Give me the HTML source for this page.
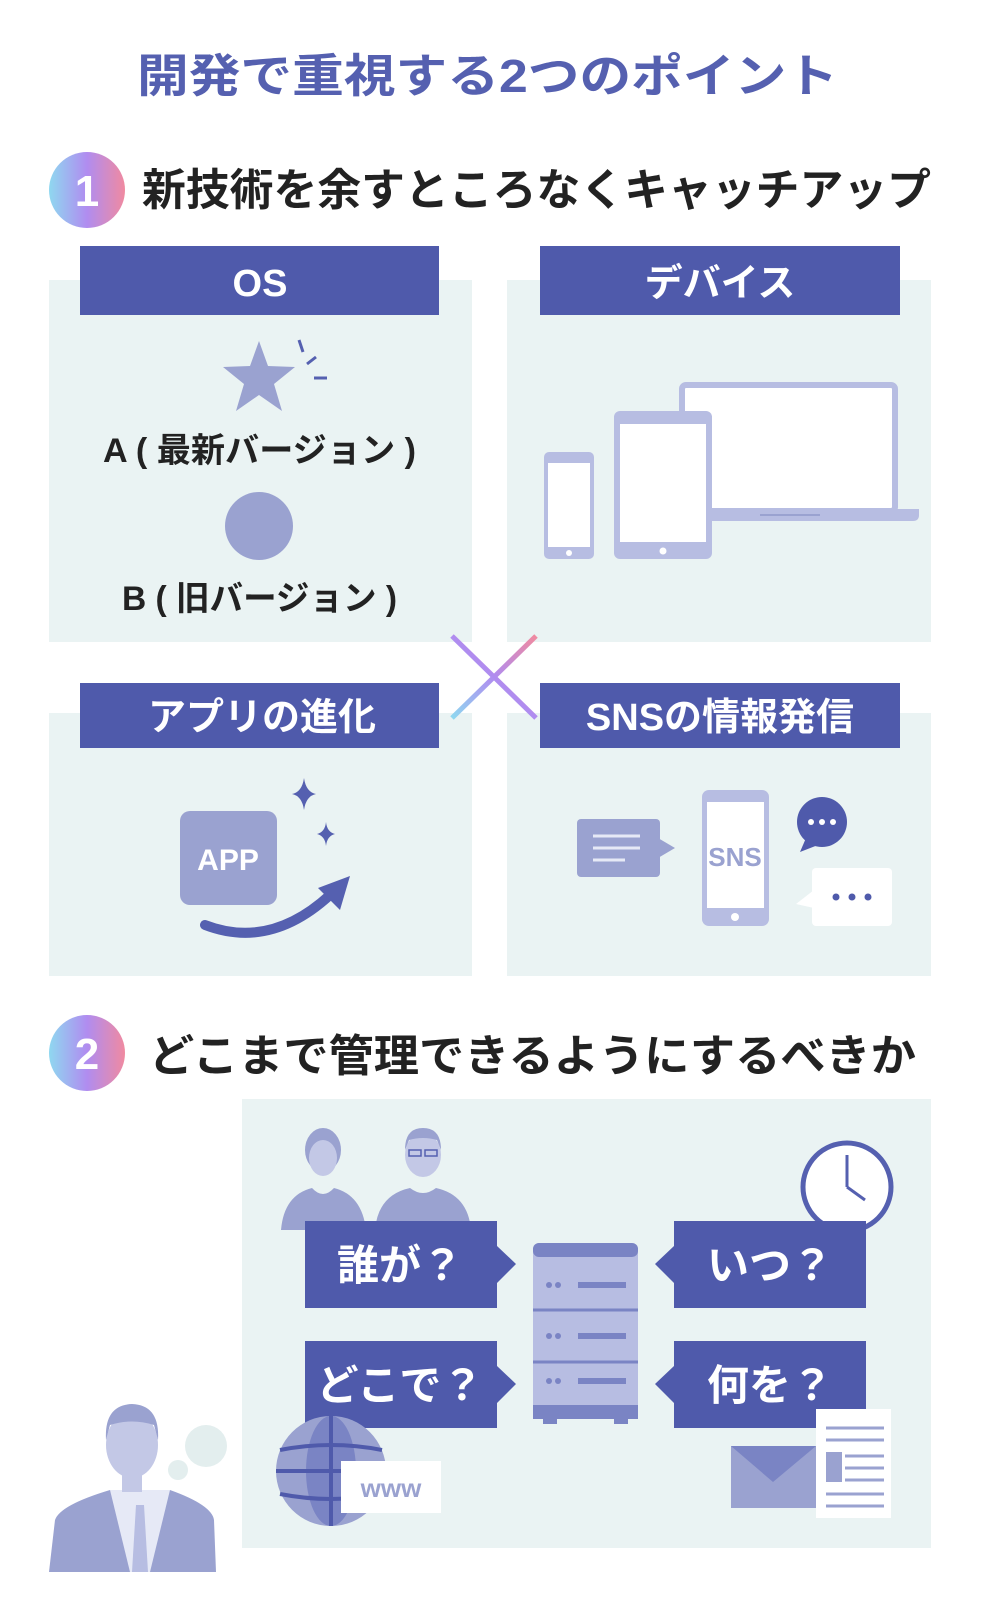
<!DOCTYPE html>
<html><head><meta charset="utf-8"><style>
html,body{margin:0;padding:0;background:#fff}
svg{display:block}
text{font-family:"Liberation Sans","Noto Sans CJK JP",sans-serif;font-weight:700}
</style></head><body>
<svg width="981" height="1620" viewBox="0 0 981 1620" xmlns="http://www.w3.org/2000/svg">
<defs>
<linearGradient id="g" x1="0" y1="0" x2="1" y2="0">
<stop offset="0" stop-color="#8fd8f0"/><stop offset="0.5" stop-color="#b08cf0"/><stop offset="1" stop-color="#f08aa0"/></linearGradient>
<linearGradient id="gx1" x1="0" y1="1" x2="1" y2="0"><stop offset="0" stop-color="#8fd8f0"/><stop offset="0.5" stop-color="#b08cf0"/><stop offset="1" stop-color="#f08aa0"/></linearGradient>
</defs>
<text x="137" y="92" font-size="46" fill="#5560b0" textLength="701" lengthAdjust="spacingAndGlyphs">開発で重視する2つのポイント</text>

<ellipse cx="87" cy="190" rx="38" ry="38" fill="url(#g)"/>
<text x="87" y="206" text-anchor="middle" font-size="44" fill="#fff">1</text>
<text x="142" y="205" font-size="44" fill="#222" textLength="789" lengthAdjust="spacingAndGlyphs">新技術を余すところなくキャッチアップ</text>

<!-- panels -->
<rect x="49" y="280" width="423" height="362" fill="#eaf3f3"/>
<rect x="507" y="280" width="424" height="362" fill="#eaf3f3"/>
<rect x="49" y="713" width="423" height="263" fill="#eaf3f3"/>
<rect x="507" y="713" width="424" height="263" fill="#eaf3f3"/>
<rect x="80" y="246" width="359" height="69" fill="#4f5aab"/>
<rect x="540" y="246" width="360" height="69" fill="#4f5aab"/>
<rect x="80" y="683" width="359" height="65" fill="#4f5aab"/>
<rect x="540" y="683" width="360" height="65" fill="#4f5aab"/>
<text x="260" y="296" text-anchor="middle" font-size="38" fill="#fff">OS</text>
<text x="720" y="296" text-anchor="middle" font-size="38" fill="#fff">デバイス</text>
<text x="262" y="730" text-anchor="middle" font-size="38" fill="#fff">アプリの進化</text>
<text x="720" y="730" text-anchor="middle" font-size="38" fill="#fff">SNSの情報発信</text>

<!-- X -->
<line x1="452" y1="718" x2="536" y2="636" stroke="url(#gx1)" stroke-width="5"/>
<line x1="452" y1="636" x2="536" y2="718" stroke="url(#gx1)" stroke-width="5"/>

<!-- OS -->
<polygon points="259,341 268,366 295,367 274,384 282,411 259,395 236,411 244,384 223,367 250,366" fill="#9aa2d0"/>
<line x1="299" y1="340" x2="303" y2="352" stroke="#5560b0" stroke-width="3"/>
<line x1="307" y1="364" x2="316" y2="357" stroke="#5560b0" stroke-width="3"/>
<line x1="314" y1="378" x2="327" y2="378" stroke="#5560b0" stroke-width="3"/>
<text x="103" y="462" font-size="34" fill="#222" textLength="313" lengthAdjust="spacingAndGlyphs">A ( 最新バージョン )</text>
<ellipse cx="259" cy="526" rx="34" ry="34" fill="#9aa2d0"/>
<text x="122" y="610" font-size="34" fill="#222" textLength="275" lengthAdjust="spacingAndGlyphs">B ( 旧バージョン )</text>

<!-- devices -->
<rect x="682" y="385" width="213" height="126" rx="4" fill="#fff" stroke="#b7bde2" stroke-width="6"/>
<path d="M660 509 H919 V515 Q919 521 913 521 H666 Q660 521 660 515Z" fill="#b7bde2"/>
<line x1="760" y1="515" x2="820" y2="515" stroke="#9aa2d0" stroke-width="2"/>
<rect x="614" y="411" width="98" height="148" rx="6" fill="#b7bde2"/>
<rect x="620" y="424" width="86" height="118" fill="#fff"/>
<circle cx="663" cy="551" r="3.5" fill="#fff"/>
<rect x="544" y="452" width="50" height="107" rx="5" fill="#b7bde2"/>
<rect x="548" y="463" width="42" height="84" fill="#fff"/>
<circle cx="569" cy="553" r="3" fill="#fff"/>

<!-- APP -->
<rect x="180" y="811" width="97" height="94" rx="10" fill="#9aa2d0"/>
<text x="228" y="870" text-anchor="middle" font-size="30" fill="#fff">APP</text>
<path d="M205 925 Q270 950 330 895" stroke="#5560b0" stroke-width="10" fill="none" stroke-linecap="round"/>
<polygon points="350,876 318,888 340,910" fill="#5560b0"/>
<path d="M304 778 Q306 792 316 794 Q306 796 304 810 Q302 796 292 794 Q302 792 304 778Z" fill="#5560b0"/>
<path d="M326 822 Q327 832 335 834 Q327 836 326 846 Q325 836 317 834 Q325 832 326 822Z" fill="#5560b0"/>

<!-- SNS -->
<rect x="577" y="819" width="83" height="58" rx="4" fill="#9aa2d0"/>
<polygon points="658,838 675,848 658,858" fill="#9aa2d0"/>
<line x1="593" y1="836" x2="640" y2="836" stroke="#e6e9f6" stroke-width="3"/>
<line x1="593" y1="848" x2="640" y2="848" stroke="#e6e9f6" stroke-width="3"/>
<line x1="593" y1="860" x2="625" y2="860" stroke="#e6e9f6" stroke-width="3"/>
<rect x="702" y="790" width="67" height="136" rx="7" fill="#b7bde2"/>
<rect x="707" y="802" width="57" height="106" fill="#fff"/>
<circle cx="735" cy="917" r="4" fill="#fff"/>
<text x="735" y="866" text-anchor="middle" font-size="26" fill="#9aa2d0">SNS</text>
<circle cx="822" cy="822" r="25" fill="#4f5aab"/>
<polygon points="806,838 800,852 818,845" fill="#4f5aab"/>
<circle cx="811" cy="822" r="3" fill="#fff"/><circle cx="822" cy="822" r="3" fill="#fff"/><circle cx="833" cy="822" r="3" fill="#fff"/>
<rect x="812" y="868" width="80" height="58" rx="4" fill="#fff"/>
<polygon points="814,890 796,904 814,908" fill="#fff"/>
<circle cx="836" cy="897" r="3.5" fill="#4f5aab"/><circle cx="852" cy="897" r="3.5" fill="#4f5aab"/><circle cx="868" cy="897" r="3.5" fill="#4f5aab"/>

<!-- section 2 -->
<ellipse cx="87" cy="1053" rx="38" ry="38" fill="url(#g)"/>
<text x="87" y="1069" text-anchor="middle" font-size="44" fill="#fff">2</text>
<text x="149" y="1071" font-size="44" fill="#222" textLength="767" lengthAdjust="spacingAndGlyphs">どこまで管理できるようにするべきか</text>

<rect x="242" y="1099" width="689" height="449" fill="#eaf3f3"/>

<!-- people -->
<ellipse cx="323" cy="1150" rx="18" ry="22" fill="#9aa2d0"/>
<ellipse cx="323" cy="1158" rx="14" ry="18" fill="#c3c8e6"/>
<path d="M281 1230 Q284 1195 312 1188 Q323 1200 334 1188 Q362 1195 366 1230Z" fill="#9aa2d0"/>
<ellipse cx="423" cy="1155" rx="18" ry="22" fill="#c3c8e6"/>
<path d="M405 1150 Q405 1128 423 1128 Q441 1128 441 1150 L437 1140 Q423 1136 409 1140Z" fill="#9aa2d0"/>
<rect x="409" y="1150" width="12" height="6" fill="none" stroke="#5560b0" stroke-width="1.5"/><rect x="425" y="1150" width="12" height="6" fill="none" stroke="#5560b0" stroke-width="1.5"/>
<path d="M375 1230 Q378 1195 410 1188 Q423 1198 436 1188 Q468 1195 471 1230Z" fill="#9aa2d0"/>

<!-- clock -->
<circle cx="847" cy="1187" r="44" fill="#fff" stroke="#5560b0" stroke-width="5"/>
<line x1="847" y1="1187" x2="847" y2="1155" stroke="#5560b0" stroke-width="3"/>
<line x1="847" y1="1187" x2="865" y2="1200" stroke="#5560b0" stroke-width="3"/>

<!-- boxes -->
<polygon points="305,1221 497,1221 497,1246 516,1264 497,1283 497,1308 305,1308" fill="#4f5aab"/>
<polygon points="305,1341 497,1341 497,1366 516,1384 497,1403 497,1428 305,1428" fill="#4f5aab"/>
<polygon points="866,1221 674,1221 674,1246 655,1264 674,1283 674,1308 866,1308" fill="#4f5aab"/>
<polygon points="866,1341 674,1341 674,1366 655,1384 674,1403 674,1428 866,1428" fill="#4f5aab"/>
<text x="400" y="1280" text-anchor="middle" font-size="42" fill="#fff">誰が？</text>
<text x="400" y="1400" text-anchor="middle" font-size="42" fill="#fff">どこで？</text>
<text x="770" y="1280" text-anchor="middle" font-size="42" fill="#fff">いつ？</text>
<text x="770" y="1400" text-anchor="middle" font-size="42" fill="#fff">何を？</text>

<!-- server -->
<rect x="533" y="1243" width="105" height="176" rx="6" fill="#b7bde2"/>
<rect x="533" y="1243" width="105" height="14" rx="6" fill="#7a84c4"/>
<line x1="533" y1="1310" x2="638" y2="1310" stroke="#7a84c4" stroke-width="3"/>
<line x1="533" y1="1362" x2="638" y2="1362" stroke="#7a84c4" stroke-width="3"/>
<rect x="533" y="1405" width="105" height="14" fill="#7a84c4"/>
<g fill="#7a84c4"><circle cx="549" cy="1285" r="3"/><circle cx="558" cy="1285" r="3"/><rect x="578" y="1282" width="48" height="6"/>
<circle cx="549" cy="1336" r="3"/><circle cx="558" cy="1336" r="3"/><rect x="578" y="1333" width="48" height="6"/>
<circle cx="549" cy="1381" r="3"/><circle cx="558" cy="1381" r="3"/><rect x="578" y="1378" width="48" height="6"/>
<rect x="543" y="1419" width="14" height="5"/><rect x="614" y="1419" width="14" height="5"/></g>

<!-- globe -->
<circle cx="331" cy="1471" r="55" fill="#9aa2d0"/>
<ellipse cx="331" cy="1471" rx="25" ry="55" fill="#7a84c4"/>
<line x1="331" y1="1416" x2="331" y2="1526" stroke="#4f5aab" stroke-width="4"/>
<path d="M280 1450 Q331 1440 382 1450 M276 1471 H386 M280 1494 Q331 1504 382 1494" stroke="#4f5aab" stroke-width="4" fill="none"/>
<rect x="341" y="1461" width="100" height="52" fill="#fff"/>
<text x="391" y="1497" text-anchor="middle" font-size="26" fill="#9aa2d0" font-weight="400">www</text>

<!-- envelope & doc -->
<rect x="816" y="1409" width="75" height="109" fill="#fff"/>
<g stroke="#9aa2d0" stroke-width="3"><line x1="826" y1="1428" x2="884" y2="1428"/><line x1="826" y1="1440" x2="884" y2="1440"/><line x1="845" y1="1456" x2="884" y2="1456"/><line x1="845" y1="1468" x2="884" y2="1468"/><line x1="845" y1="1480" x2="884" y2="1480"/><line x1="826" y1="1494" x2="884" y2="1494"/><line x1="826" y1="1506" x2="884" y2="1506"/></g>
<rect x="826" y="1452" width="16" height="30" fill="#9aa2d0"/>
<rect x="731" y="1446" width="85" height="62" fill="#9aa2d0"/>
<polygon points="731,1446 816,1446 773,1482" fill="#7a84c4"/>

<!-- businessman -->
<circle cx="206" cy="1446" r="21" fill="#e3eeee"/>
<circle cx="178" cy="1470" r="10" fill="#e3eeee"/>
<path d="M49 1572 L55 1520 Q60 1505 110 1490 L170 1490 Q212 1505 214 1520 L216 1572Z" fill="#9aa2d0"/>
<polygon points="110,1490 170,1490 150,1572 130,1572" fill="#e6e9f6"/>
<polygon points="136,1505 144,1505 148,1572 132,1572" fill="#b7bde2"/>
<ellipse cx="132" cy="1445" rx="26" ry="33" fill="#c3c8e6"/>
<path d="M106 1440 Q104 1405 132 1404 Q160 1405 158 1440 L154 1425 Q132 1418 110 1425Z" fill="#9aa2d0"/>
<rect x="122" y="1472" width="20" height="20" fill="#c3c8e6"/>
</svg>
</body></html>
